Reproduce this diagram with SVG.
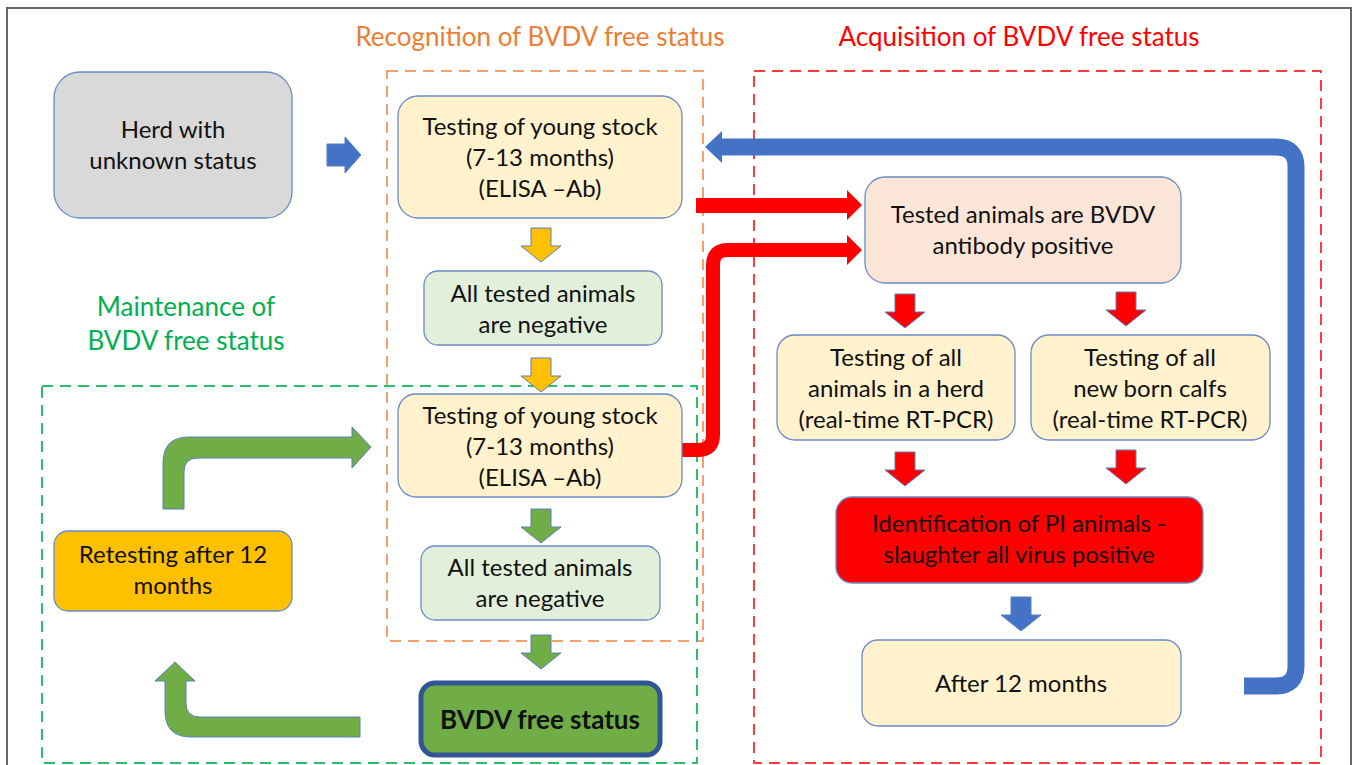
<svg xmlns="http://www.w3.org/2000/svg" width="1358" height="765" viewBox="0 0 1358 765">
<style>
text{font-family:Lato,"Liberation Sans",sans-serif;font-size:24px;fill:#111;text-anchor:middle}
.node{stroke:#6A8CC7;stroke-width:1.3}
.ttl{font-size:26px}
.dash{fill:none;stroke-width:2;stroke-dasharray:11 7}
.arr{stroke:#5B7FBF;stroke-width:1}
</style>
<defs>
<path id="down" d="M-10,0 H10 V18 H20 L0,34 L-20,18 H-10 Z"/>
</defs>
<rect x="0" y="0" width="1358" height="765" fill="#fff"/>
<path d="M7,765 V8 H1351 V765" fill="none" stroke="#666" stroke-width="2"/>

<g id="regions">
<rect class="dash" x="387" y="71" width="316" height="570" stroke="#F4A06A"/>
<rect class="dash" x="754" y="71" width="567" height="692" stroke="#FF3B3B"/>
<rect class="dash" x="42" y="386" width="655" height="377" stroke="#2EBD6B"/>
<text class="ttl" x="540" y="46" style="fill:#ED7D31">Recognition of BVDV free status</text>
<text class="ttl" x="1019" y="46" style="fill:#FF0000">Acquisition of BVDV free status</text>
<text class="ttl" x="186" y="316" style="fill:#00B050">Maintenance of</text>
<text class="ttl" x="186" y="350" style="fill:#00B050">BVDV free status</text>
</g>

<g id="connectors">
<path class="arr" d="M327,144 H345 V137 L361,155 L345,173 V166 H327 Z" fill="#4472C4"/>
<use href="#down" transform="translate(541,228)" fill="#FFC000" class="arr"/>
<use href="#down" transform="translate(541,358)" fill="#FFC000" class="arr"/>
<use href="#down" transform="translate(541,509)" fill="#70AD47" class="arr"/>
<use href="#down" transform="translate(541,635)" fill="#70AD47" class="arr"/>
<use href="#down" transform="translate(905,294)" fill="#FF0000" class="arr"/>
<use href="#down" transform="translate(1126,292)" fill="#FF0000" class="arr"/>
<use href="#down" transform="translate(905,452)" fill="#FF0000" class="arr"/>
<use href="#down" transform="translate(1126,450)" fill="#FF0000" class="arr"/>
<use href="#down" transform="translate(1021,597)" fill="#4472C4" class="arr"/>
<path d="M696,198 H847 V190 L862,205 L847,220 V213 H696 Z" fill="#FF0000"/>
<path d="M681,450 H698 Q713,450 713,435 V265 Q713,250 728,250 H848" fill="none" stroke="#FF0000" stroke-width="14"/>
<path d="M847,235 L862,250 L847,265 Z" fill="#FF0000"/>
<path d="M1244,686 H1276 Q1296,686 1296,666 V167 Q1296,147 1276,147 H720" fill="none" stroke="#4472C4" stroke-width="17"/>
<path d="M722,131 L705,147 L722,163 Z" fill="#4472C4"/>
<path class="arr" d="M163,509 V463 Q163,437 189,437 H352 V427 L371,447 L352,468 V458 H198 Q184,458 184,472 V509 Z" fill="#70AD47"/>
<path class="arr" d="M360,717 H200 Q186,717 186,703 V681 H195 L175,662 L155,681 H165 V711 Q165,737 191,737 H360 Z" fill="#70AD47"/>
</g>

<g id="n-herd"><rect class="node" x="54" y="72" width="238" height="146" rx="26" fill="#D9D9D9"/>
<text x="173" y="138">Herd with</text><text x="173" y="169">unknown status</text></g>

<g id="n-test1"><rect class="node" x="398" y="96" width="284" height="122" rx="20" fill="#FFF2CC"/>
<text x="540" y="135">Testing of young stock</text><text x="540" y="166">(7-13 months)</text><text x="540" y="197">(ELISA –Ab)</text></g>

<g id="n-neg1"><rect class="node" x="424" y="271" width="238" height="74" rx="14" fill="#E2EFDA"/>
<text x="543" y="302">All tested animals</text><text x="543" y="333">are negative</text></g>

<g id="n-test2"><rect class="node" x="398" y="394" width="284" height="103" rx="18" fill="#FFF2CC"/>
<text x="540" y="424">Testing of young stock</text><text x="540" y="455">(7-13 months)</text><text x="540" y="486">(ELISA –Ab)</text></g>

<g id="n-neg2"><rect class="node" x="421" y="546" width="239" height="74" rx="14" fill="#E2EFDA"/>
<text x="540" y="576">All tested animals</text><text x="540" y="607">are negative</text></g>

<g id="n-free"><rect x="421" y="683" width="239" height="72" rx="14" fill="#70AD47" stroke="#2F5597" stroke-width="5"/>
<text x="540" y="729" style="font-weight:bold;font-size:26px">BVDV free status</text></g>

<g id="n-retest"><rect class="node" x="54" y="531" width="238" height="80" rx="14" fill="#FFC000"/>
<text x="173" y="563">Retesting after 12</text><text x="173" y="594">months</text></g>

<g id="n-pos"><rect class="node" x="865" y="177" width="316" height="106" rx="20" fill="#FBE5D6"/>
<text x="1023" y="223">Tested animals are BVDV</text><text x="1023" y="254">antibody positive</text></g>

<g id="n-all"><rect class="node" x="777" y="335" width="238" height="105" rx="18" fill="#FFF2CC"/>
<text x="896" y="366">Testing of all</text><text x="896" y="397">animals in a herd</text><text x="896" y="428">(real-time RT-PCR)</text></g>

<g id="n-calf"><rect class="node" x="1031" y="335" width="239" height="105" rx="18" fill="#FFF2CC"/>
<text x="1150" y="366">Testing of all</text><text x="1150" y="397">new born calfs</text><text x="1150" y="428">(real-time RT-PCR)</text></g>

<g id="n-pi"><rect class="node" x="836" y="497" width="367" height="86" rx="16" fill="#FF0000"/>
<text x="1019" y="532">Identification of PI animals -</text><text x="1019" y="563">slaughter all virus positive</text></g>

<g id="n-after"><rect class="node" x="862" y="640" width="319" height="86" rx="16" fill="#FFF2CC"/>
<text x="1021" y="692">After 12 months</text></g>
</svg>
